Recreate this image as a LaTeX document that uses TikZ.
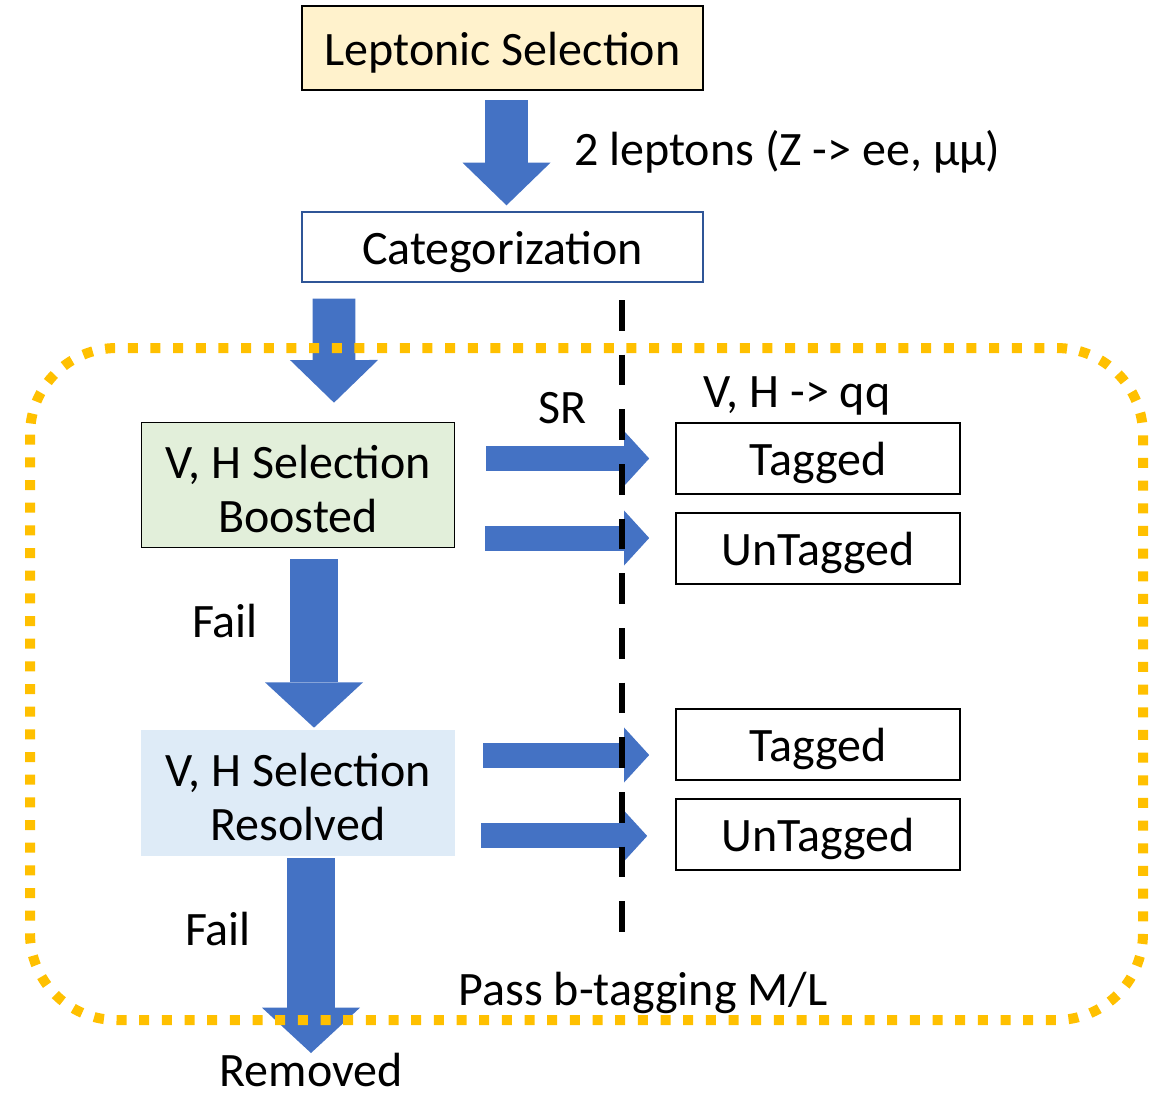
\documentclass[tikz,border=0pt]{standalone}
\usepackage{fontspec}
\setmainfont{Carlito}
\usetikzlibrary{arrows.meta,positioning}
\definecolor{lepyellow}{HTML}{FFF2CC}
\definecolor{boostgreen}{HTML}{E2EFDA}
\definecolor{resolvedblue}{HTML}{DEEBF7}
\definecolor{catborder}{HTML}{2F5597}
\definecolor{arrowblue}{HTML}{4472C4}
\definecolor{frameorange}{HTML}{FFC000}
\tikzset{
  lepbox/.style={
      rectangle,
      draw=black,
      line width=1.5pt,
      fill=lepyellow,
      minimum width=300.75pt,
      minimum height=63pt,
      text height=29pt,
      text depth=3pt
  },
  catbox/.style={
      rectangle,
      draw=catborder,
      line width=1pt,
      minimum width=300.75pt,
      minimum height=52.5pt,
      text height=29pt,
      text depth=3pt
  },
  selbox/.style={
      rectangle,
      line width=1pt,
      align=center,
      minimum width=235pt,
      minimum height=94pt,
      text height=70.5pt,
      text depth=0pt
  },
  outbox/.style={
      rectangle,
      draw=black,
      line width=1.2pt,
      minimum width=213pt,
      minimum height=53.25pt,
      text height=29pt,
      text depth=3pt
  },
  lbl/.style={inner sep=0pt},
  bigdown/.style={
      draw=arrowblue,
      line width=32pt,
      -{Triangle[width=66pt,length=32pt,line width=0pt]}
  },
  faildown/.style={
      draw=arrowblue,
      line width=36pt,
      -{Triangle[width=73.5pt,length=34pt,line width=0pt]}
  },
  sidearrow/.style={
      draw=arrowblue,
      line width=18.75pt,
      -{Triangle[width=41pt,length=18.75pt,line width=0pt]}
  },
  sepline/.style={draw=black, line width=4.5pt, dash pattern=on 23pt off 18pt},
  frame/.style={draw=frameorange, line width=7.5pt, dash pattern=on 7.5pt off 9.5pt,
      rounded corners=65pt}
}
\begin{document}
\begin{tikzpicture}[x=0.75pt,y=-0.75pt,font=\fontsize{36}{40}\selectfont]
    \useasboundingbox (0,0) rectangle (1154,1093);
    % boxes
    \node[lepbox] (lep) at (502.5,48) {Leptonic Selection};
    \node[catbox] (cat) at (502.5,247) {Categorization};
    \node[selbox, draw=black, fill=boostgreen] (boosted) at (298,485) {V, H Selection\\Boosted};
    \node[selbox, fill=resolvedblue] (resolved) at (298,793) {V, H Selection\\Resolved};
    \node[outbox] (tagA) at (818,458.5) {Tagged};
    \node[outbox] (untagA) at (818,548.5) {UnTagged};
    \node[outbox] (tagB) at (818,744.5) {Tagged};
    \node[outbox] (untagB) at (818,834.5) {UnTagged};
    \coordinate (inUA) at ([yshift=7.875pt]untagA.west);
    \coordinate (inTB) at ([yshift=-7.875pt]tagB.west);
    \coordinate (inUB) at ([yshift=-1.1pt]untagB.west);
    \coordinate (out) at (311,1053);
    \coordinate (septop) at (622,300);
    \coordinate (sepbot) at (622,945);
    % flow arrows
    \draw[bigdown, shorten <=7pt, shorten >=4.5pt] ([xshift=3pt]lep.south) -- ([xshift=3pt]cat.north);
    \draw[bigdown, shorten <=12pt, shorten >=14.25pt] ([xshift=-126.4pt]cat.south) -- ([xshift=27pt]boosted.north);
    \draw[faildown, shorten <=8.25pt, shorten >=1.5pt] ([xshift=12pt]boosted.south) -- ([xshift=12pt]resolved.north);
    \draw[faildown, shorten <=1.5pt] ([xshift=9.75pt]resolved.south) -- (out);
    \draw[sidearrow, shorten <=23.25pt, shorten >=19.5pt] (boosted.east |- tagA.west) -- (tagA.west);
    \draw[sidearrow, shorten <=22.5pt, shorten >=19.5pt] (boosted.east |- inUA) -- (inUA);
    \draw[sidearrow, shorten <=21pt, shorten >=19.5pt] (resolved.east |- inTB) -- (inTB);
    \draw[sidearrow, shorten <=19.5pt, shorten >=21pt] (resolved.east |- inUB) -- (inUB);
    % region and split
    \draw[frame] (30,348) rectangle (1143,1020);
    \draw[sepline] (septop) -- (sepbot);
    % labels
    \node[lbl, anchor=base west] (leptons) at (574,165) {2 leptons (Z -> ee, µµ)};
    \node[lbl, anchor=base] (sr) at (563,423) {SR};
    \node[lbl, anchor=base] (qq) at (797,407) {V, H -> qq};
    \node[lbl, anchor=base] (failA) at (225,637) {Fail};
    \node[lbl, anchor=base] (failB) at (218,945) {Fail};
    \node[lbl, anchor=base] (pass) at (643,1005) {Pass b-tagging M/L};
    \node[lbl, anchor=base] (removed) at (311,1086) {Removed};
\end{tikzpicture}
\end{document}
